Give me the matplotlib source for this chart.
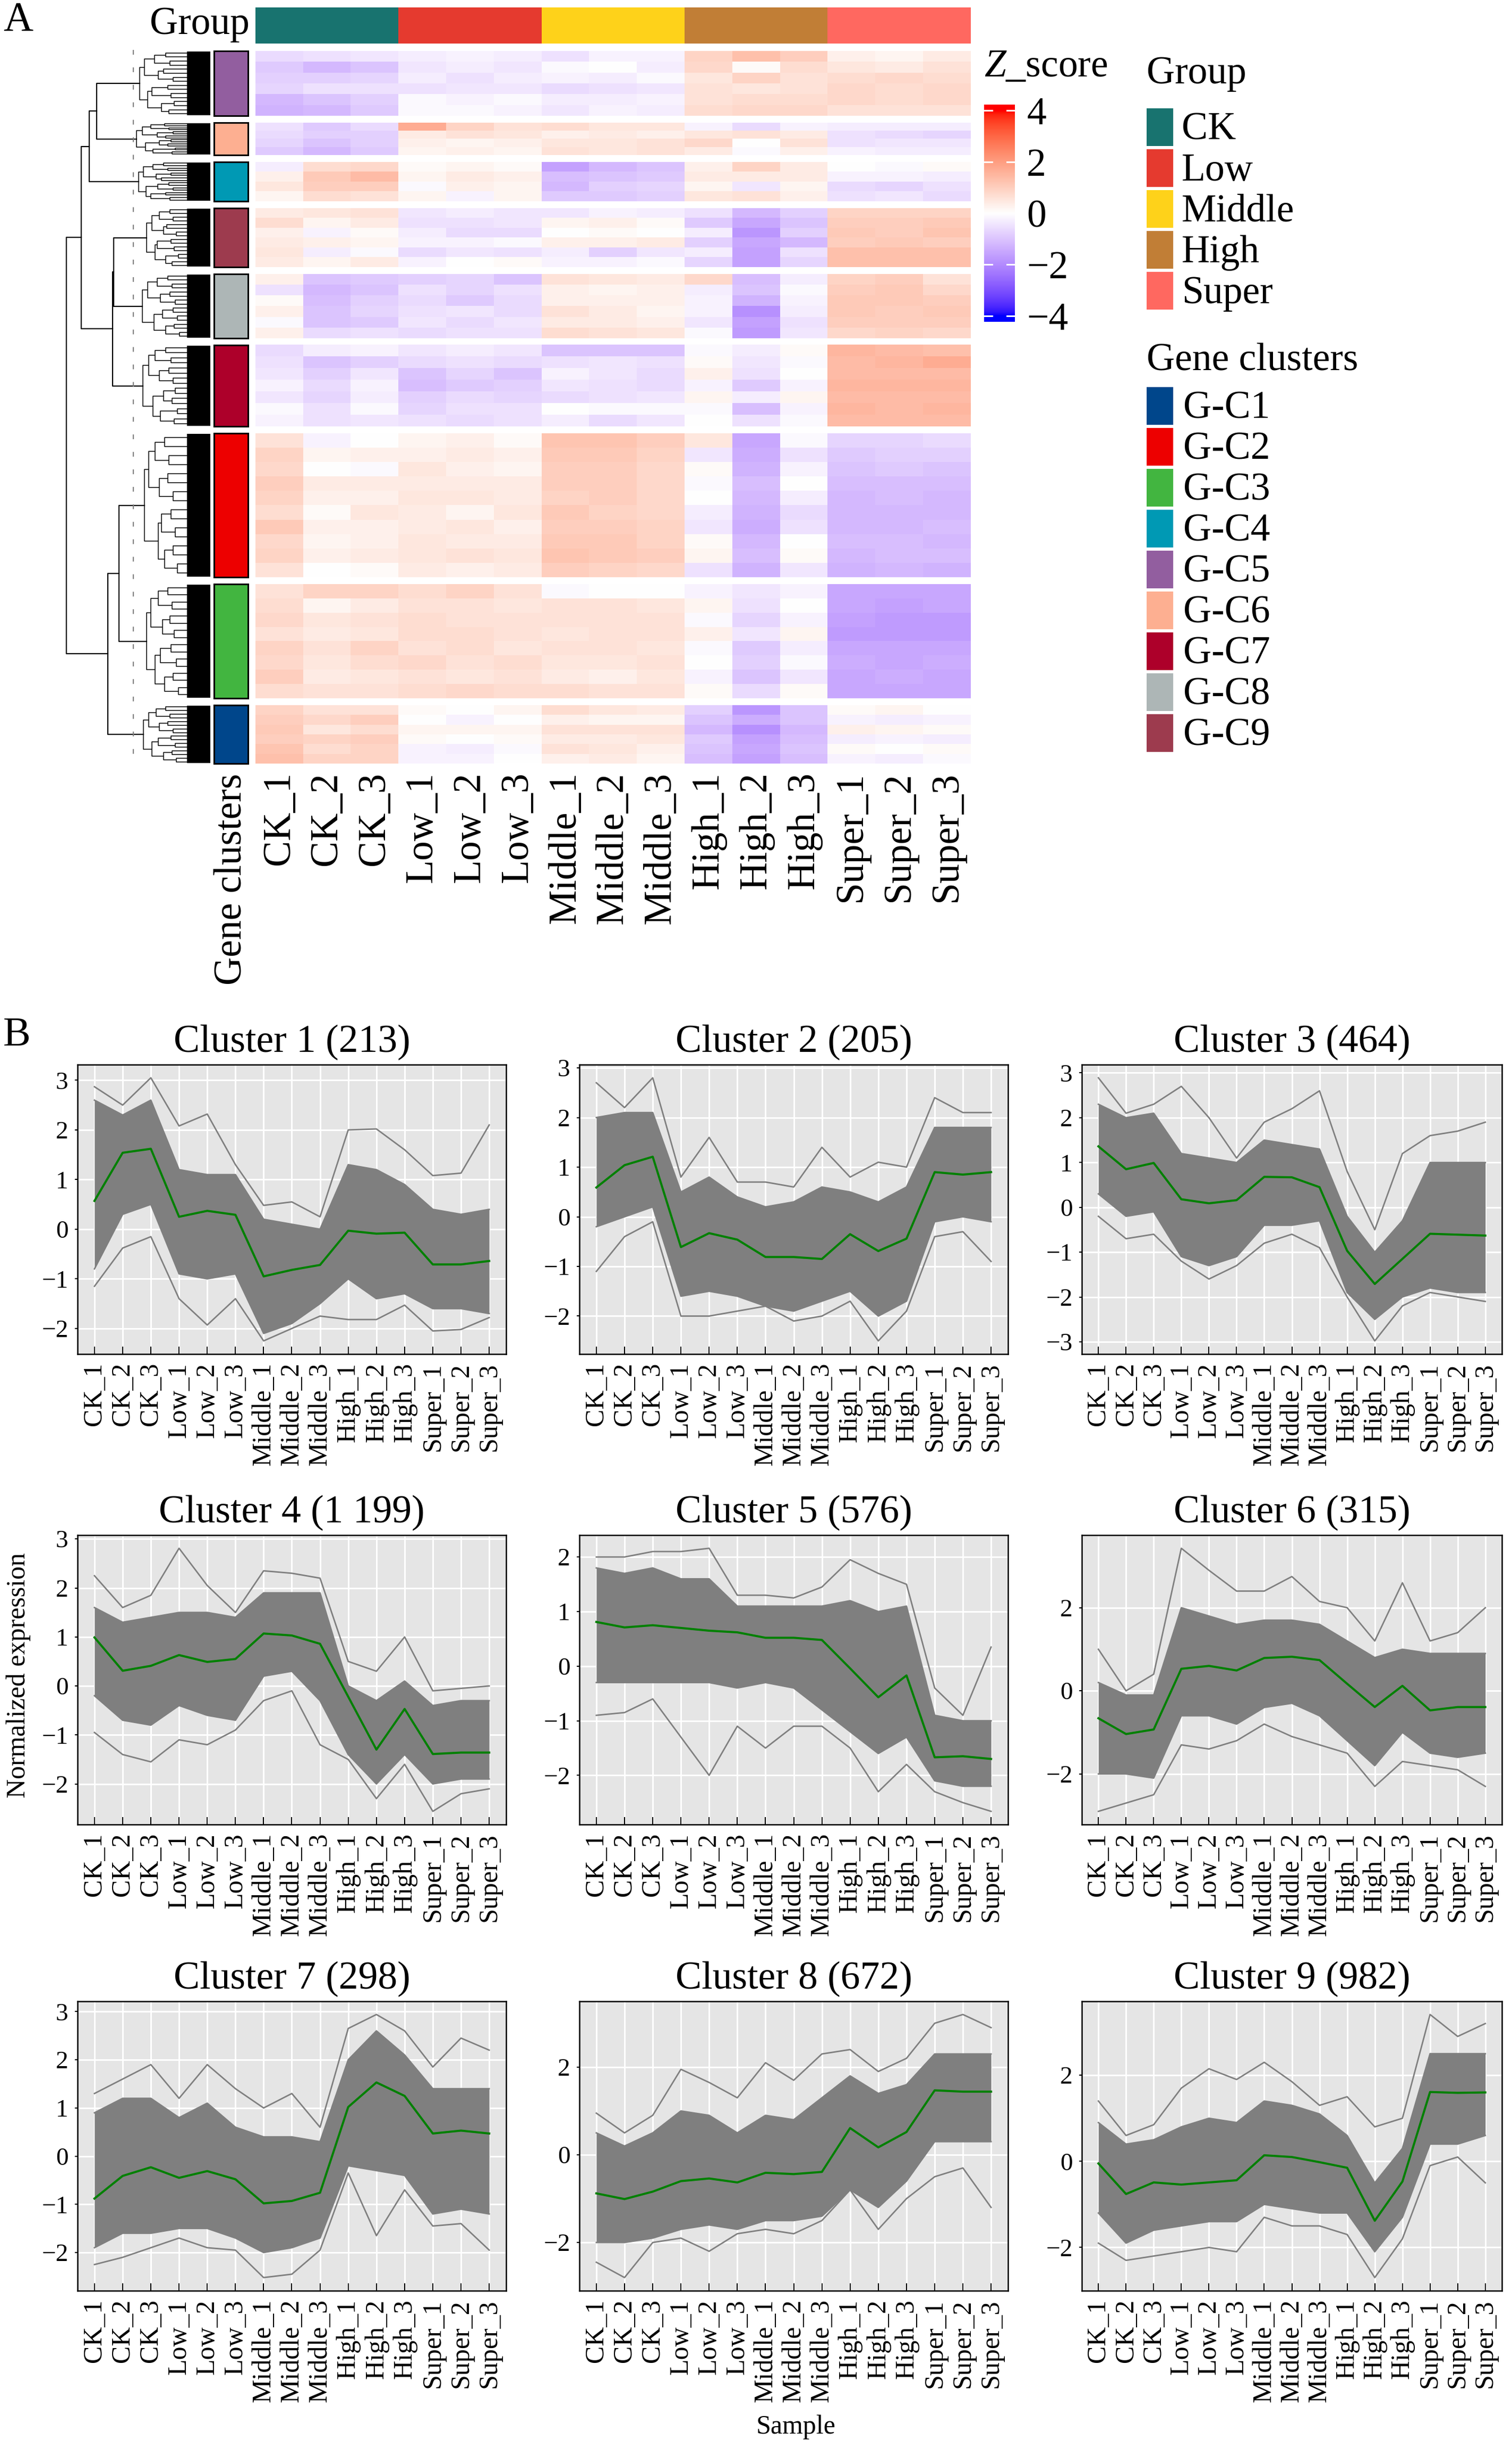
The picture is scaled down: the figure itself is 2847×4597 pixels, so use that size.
import numpy as np
import matplotlib
matplotlib.use('Agg')
import matplotlib.pyplot as plt
from matplotlib.colors import ListedColormap, Normalize
from matplotlib.patches import Rectangle
from matplotlib.ticker import MultipleLocator

plt.rcParams['font.family'] = ['Liberation Serif', 'DejaVu Serif']
plt.rcParams['mathtext.fontset'] = 'custom'
plt.rcParams['mathtext.rm'] = 'Liberation Serif'
plt.rcParams['mathtext.it'] = 'Liberation Serif:italic'

W, H = 2847, 4597

# ---------------- data ----------------
samples = ['CK_1', 'CK_2', 'CK_3', 'Low_1', 'Low_2', 'Low_3', 'Middle_1', 'Middle_2', 'Middle_3',
           'High_1', 'High_2', 'High_3', 'Super_1', 'Super_2', 'Super_3']
groups = ['CK', 'Low', 'Middle', 'High', 'Super']
group_colors = ['#18736F', '#E53A2F', '#FED21A', '#C17E36', '#FF6860']
sample_group = [0, 0, 0, 1, 1, 1, 2, 2, 2, 3, 3, 3, 4, 4, 4]

cluster_names = ['G-C1', 'G-C2', 'G-C3', 'G-C4', 'G-C5', 'G-C6', 'G-C7', 'G-C8', 'G-C9']
cluster_colors = ['#00468B', '#ED0000', '#42B540', '#0099B4', '#925E9F', '#FDAF91', '#AD002A', '#ADB6B6', '#9D3B4E']

# heatmap row order (top to bottom) and relative block sizes
row_order = ['G-C5', 'G-C6', 'G-C4', 'G-C9', 'G-C8', 'G-C7', 'G-C2', 'G-C3', 'G-C1']
block_size = [122, 61, 74, 111, 121, 153, 271, 215, 110]

# z-scores, a few representative stripes per cluster
hm_gc5 = [[-0.6, -0.5, -0.4, -0.3, -0.2, -0.3, -0.5, -0.2, -0.2, 0.9, 1.3, 1.0, 0.3, 0.2, 0.4],
          [-0.9, -1.2, -1.0, -0.4, -0.3, -0.4, -0.1, 0.0, -0.3, 0.8, 0.1, 0.7, 0.5, 0.4, 0.6],
          [-0.8, -0.8, -0.7, -0.3, -0.5, -0.3, -0.2, -0.3, -0.1, 0.5, 0.9, 0.6, 0.7, 0.8, 0.7],
          [-0.7, -0.5, -0.5, -0.5, -0.4, -0.4, -0.6, -0.5, -0.4, 0.6, 0.5, 0.6, 0.8, 0.7, 0.8],
          [-1.2, -1.0, -0.8, -0.1, -0.2, -0.1, -0.3, -0.3, -0.2, 0.6, 0.7, 0.7, 0.8, 0.7, 0.8],
          [-1.3, -1.2, -0.9, -0.1, -0.1, -0.2, -0.4, -0.2, -0.3, 0.7, 0.8, 0.8, 0.6, 0.6, 0.6]]
hm_gc6 = [[-0.5, -0.9, -0.6, 1.7, 0.9, 0.6, 0.7, 0.5, 0.5, -0.2, -0.6, -0.2, -0.3, -0.3, -0.3],
          [-0.6, -0.8, -0.8, 0.4, 0.6, 0.5, 0.3, 0.4, 0.3, 0.5, 0.6, 0.4, -0.5, -0.6, -0.7],
          [-0.7, -1.0, -0.8, 0.3, 0.2, 0.3, 0.5, 0.5, 0.6, 0.8, 0.0, 0.6, -0.5, -0.4, -0.4],
          [-0.9, -1.2, -0.9, 0.2, 0.3, 0.2, 0.6, 0.5, 0.6, 0.4, -0.1, 0.3, -0.2, -0.3, -0.3]]
hm_gc4 = [[-0.3, 0.7, 0.8, 0.1, 0.2, 0.1, -1.6, -1.2, -1.0, 0.3, 0.9, 0.4, 0.0, -0.1, 0.1],
          [0.3, 1.1, 1.4, 0.2, 0.4, 0.3, -1.1, -1.0, -0.9, 0.4, 0.4, 0.4, -0.2, -0.2, -0.3],
          [0.5, 1.0, 1.0, -0.1, 0.3, 0.2, -1.2, -0.8, -0.7, 0.2, -0.4, 0.2, -0.6, -0.7, -0.5],
          [0.2, 0.7, 0.6, 0.2, -0.2, 0.2, -0.9, -0.9, -0.8, 0.5, 0.6, 0.3, -0.5, -0.4, -0.6]]
hm_gc9 = [[0.4, 0.5, 0.6, -0.4, -0.3, -0.4, -0.4, -0.2, -0.3, -0.5, -1.2, -0.8, 0.9, 0.9, 0.9],
          [0.7, 0.2, 0.4, -0.5, -0.5, -0.4, 0.2, 0.3, 0.1, -0.9, -1.5, -1.0, 1.0, 1.0, 1.1],
          [0.3, -0.2, 0.1, -0.3, -0.6, -0.6, 0.0, 0.1, 0.0, -0.3, -1.8, -0.8, 1.1, 1.0, 1.2],
          [0.4, 0.3, 0.2, -0.2, -0.2, -0.1, 0.3, 0.3, 0.4, -0.8, -1.5, -1.2, 1.0, 1.1, 1.0],
          [0.5, -0.3, -0.1, -0.6, -0.4, -0.5, -0.3, -0.8, -0.4, -0.3, -1.6, -0.5, 1.3, 1.3, 1.3],
          [0.4, 0.2, 0.4, -0.2, 0.0, 0.1, -0.2, -0.2, -0.1, -0.7, -1.6, -0.7, 1.3, 1.3, 1.3]]
hm_gc8 = [[0.3, -1.0, -0.9, -0.8, -0.7, -1.0, 0.6, 0.5, 0.4, 0.8, -1.1, -0.3, 0.9, 1.0, 0.6],
          [-0.5, -1.2, -1.0, -0.5, -0.7, -0.5, 0.3, 0.2, 0.3, -0.3, -1.0, -0.1, 1.0, 1.1, 0.8],
          [0.1, -1.1, -0.8, -0.6, -0.9, -0.6, 0.3, 0.3, 0.3, -0.2, -1.3, -0.2, 1.1, 1.1, 1.0],
          [0.3, -1.0, -0.7, -0.5, -0.4, -0.6, 0.6, 0.4, 0.2, -0.2, -1.9, -0.3, 1.1, 1.0, 1.1],
          [-0.1, -1.0, -0.9, -0.4, -0.6, -0.4, 0.4, 0.4, 0.3, -0.4, -1.6, -0.5, 1.0, 1.0, 1.0],
          [0.3, -0.6, -0.5, -0.6, -0.5, -0.5, 0.7, 0.6, 0.5, -0.1, -1.7, -0.4, 0.8, 0.9, 0.8]]
hm_gc7 = [[-0.6, -0.3, -0.2, -0.4, -0.3, -0.4, -1.0, -1.0, -1.0, -0.1, -0.3, 0.1, 1.5, 1.4, 1.3],
          [-0.5, -1.0, -0.8, -0.6, -0.5, -0.6, -0.5, -0.4, -0.5, 0.1, -0.4, -0.1, 1.4, 1.5, 1.7],
          [-0.4, -0.8, -0.4, -1.0, -0.7, -1.0, -0.2, -0.4, -0.6, 0.3, -0.5, 0.0, 1.4, 1.4, 1.4],
          [-0.2, -0.6, -0.2, -1.1, -0.9, -0.8, -0.4, -0.5, -0.6, -0.2, -0.9, -0.2, 1.5, 1.5, 1.5],
          [-0.4, -0.7, -0.3, -0.8, -0.6, -0.7, -0.6, -0.5, -0.4, 0.2, -0.3, 0.2, 1.4, 1.4, 1.4],
          [-0.1, -0.5, -0.1, -0.7, -0.5, -0.5, 0.0, -0.1, -0.1, -0.1, -1.1, -0.2, 1.5, 1.4, 1.5],
          [-0.2, -0.5, -0.4, -0.5, -0.6, -0.5, -0.3, -0.6, -0.4, 0.0, -0.5, -0.1, 1.4, 1.4, 1.4]]
hm_gc2 = [[0.6, -0.2, 0.0, 0.2, 0.3, 0.1, 1.2, 1.2, 1.0, 0.5, -1.5, -0.1, -0.7, -0.7, -0.6],
          [0.9, 0.2, 0.3, 0.3, 0.4, 0.3, 1.1, 1.1, 0.9, -0.4, -1.4, -0.5, -0.9, -0.8, -0.8],
          [0.8, 0.0, -0.1, 0.5, 0.3, 0.2, 1.0, 1.0, 0.8, 0.1, -1.3, -0.2, -1.0, -0.9, -1.0],
          [1.0, 0.4, 0.4, 0.4, 0.4, 0.4, 1.0, 1.0, 0.8, -0.1, -1.1, 0.0, -1.1, -1.1, -1.1],
          [0.9, 0.3, 0.3, 0.5, 0.5, 0.4, 0.9, 1.0, 0.8, 0.0, -1.2, -0.3, -1.2, -1.1, -1.2],
          [0.7, 0.1, 0.5, 0.4, 0.2, 0.5, 1.1, 0.9, 0.8, -0.3, -1.3, -0.6, -1.2, -1.2, -1.2],
          [1.1, 0.3, 0.3, 0.4, 0.5, 0.3, 1.0, 1.0, 0.9, -0.4, -1.4, -0.5, -1.2, -1.2, -1.1],
          [0.8, 0.2, 0.3, 0.5, 0.4, 0.4, 1.1, 1.1, 0.9, 0.1, -1.2, 0.0, -1.1, -1.1, -1.2],
          [0.9, 0.3, 0.4, 0.5, 0.6, 0.5, 1.2, 1.1, 1.0, 0.2, -1.1, 0.1, -1.2, -1.1, -1.1],
          [0.6, 0.0, 0.1, 0.4, 0.3, 0.4, 1.0, 0.9, 0.8, -0.5, -1.3, -0.4, -1.3, -1.2, -1.3]]
hm_gc3 = [[0.6, 0.9, 0.9, 0.7, 0.9, 0.6, -0.1, 0.0, 0.0, -0.2, -0.4, -0.2, -1.5, -1.5, -1.5],
          [0.7, 0.2, 0.4, 0.6, 0.6, 0.5, 0.6, 0.6, 0.5, 0.2, -0.5, 0.0, -1.5, -1.6, -1.5],
          [0.8, 0.5, 0.6, 0.7, 0.6, 0.6, 0.6, 0.6, 0.6, -0.1, -0.7, -0.2, -1.6, -1.7, -1.7],
          [0.6, 0.4, 0.5, 0.7, 0.7, 0.6, 0.5, 0.6, 0.6, 0.3, -0.4, 0.2, -1.7, -1.7, -1.7],
          [0.9, 0.6, 0.9, 0.6, 0.7, 0.5, 0.6, 0.6, 0.5, -0.1, -0.9, -0.3, -1.5, -1.5, -1.5],
          [0.8, 0.5, 0.7, 0.8, 0.6, 0.7, 0.5, 0.5, 0.6, 0.0, -0.8, -0.1, -1.4, -1.5, -1.4],
          [1.0, 0.4, 0.5, 0.6, 0.5, 0.6, 0.4, 0.3, 0.5, -0.2, -1.0, -0.4, -1.5, -1.4, -1.5],
          [0.7, 0.6, 0.6, 0.7, 0.8, 0.7, 0.7, 0.6, 0.6, 0.1, -0.6, 0.1, -1.5, -1.5, -1.5]]
hm_gc1 = [[0.9, 0.6, 0.6, 0.1, 0.0, 0.2, 0.7, 0.5, 0.4, -0.8, -1.8, -1.0, 0.1, 0.2, 0.0],
          [1.0, 0.8, 1.0, 0.0, -0.2, 0.0, 0.3, 0.2, 0.2, -1.0, -1.4, -1.0, -0.2, -0.3, -0.2],
          [1.1, 0.5, 0.7, 0.2, 0.2, 0.2, 0.6, 0.6, 0.6, -1.2, -1.9, -1.2, 0.3, 0.2, 0.1],
          [1.0, 0.9, 1.0, 0.1, 0.0, 0.1, 0.4, 0.4, 0.5, -0.9, -1.6, -1.1, -0.3, -0.2, -0.3],
          [1.2, 0.7, 0.9, -0.2, -0.3, -0.1, 0.6, 0.5, 0.3, -1.0, -1.5, -1.0, 0.1, 0.0, 0.1],
          [1.3, 0.9, 0.9, -0.2, -0.2, 0.0, 0.3, 0.4, 0.2, -1.1, -1.6, -1.1, -0.2, -0.3, -0.1]]
heat = {'G-C1': hm_gc1, 'G-C2': hm_gc2, 'G-C3': hm_gc3, 'G-C4': hm_gc4, 'G-C5': hm_gc5,
        'G-C6': hm_gc6, 'G-C7': hm_gc7, 'G-C8': hm_gc8, 'G-C9': hm_gc9}

# dendrogram: cluster subtree root heights and top level merges
leaf_height = {'G-C5': 133, 'G-C6': 139, 'G-C4': 135, 'G-C9': 120, 'G-C8': 128,
               'G-C7': 127, 'G-C2': 124, 'G-C3': 120, 'G-C1': 126}
merges = [('G-C5', 'G-C6', 214, 'n1'), ('n1', 'G-C4', 228, 'n2'),
          ('G-C9', 'G-C8', 182, 'n3'), ('n3', 'G-C7', 184, 'n4'),
          ('n2', 'n4', 243, 'n5'), ('G-C2', 'G-C3', 172, 'n6'),
          ('n6', 'G-C1', 193, 'n7'), ('n5', 'n7', 271, 'root')]
cut_height = 145
sub_heights = {
    'G-C5': [[124, 118], [105, 98, 110, 92], [84, 76, 88, 70, 80, 74, 68, 78]],
    'G-C6': [[128, 122], [112, 100, 96, 108], [86, 78, 70, 84, 74, 80, 66, 72]],
    'G-C4': [[126, 121], [108, 102, 99, 112], [88, 80, 74, 92, 78, 70, 84, 76]],
    'G-C9': [[110, 104], [96, 88, 100, 84], [76, 70, 82, 64, 74, 68, 60, 72]],
    'G-C8': [[118, 106], [100, 94, 90, 84], [80, 72, 76, 66, 70, 62, 68, 58]],
    'G-C7': [[116, 108], [104, 96, 88, 94], [84, 74, 78, 70, 66, 72, 62, 68]],
    'G-C2': [[116, 98], [104, 96, 92, 86], [86, 78, 80, 70, 74, 66, 70, 62]],
    'G-C3': [[112, 104], [98, 90, 94, 86], [80, 72, 76, 68, 74, 64, 70, 60]],
    'G-C1': [[116, 110], [102, 96, 98, 88], [84, 76, 80, 70, 74, 66, 72, 64]],
}

# panel B: mean profile (green), outermost lines and the dense band
panel_titles = ['Cluster 1 (213)', 'Cluster 2 (205)', 'Cluster 3 (464)', 'Cluster 4 (1 199)',
                'Cluster 5 (576)', 'Cluster 6 (315)', 'Cluster 7 (298)', 'Cluster 8 (672)',
                'Cluster 9 (982)']
c1_mean = [0.57, 1.54, 1.62, 0.25, 0.37, 0.29, -0.95, -0.82, -0.72, -0.03, -0.09, -0.07, -0.71, -0.71, -0.64]
c1_top = [2.87, 2.5, 3.05, 2.08, 2.32, 1.3, 0.48, 0.55, 0.25, 2.0, 2.02, 1.6, 1.08, 1.13, 2.1]
c1_high = [2.6, 2.3, 2.6, 1.2, 1.1, 1.1, 0.2, 0.1, 0.0, 1.3, 1.2, 0.9, 0.4, 0.3, 0.4]
c1_low = [-0.8, 0.3, 0.5, -0.9, -1.0, -0.9, -2.1, -1.9, -1.5, -1.0, -1.4, -1.3, -1.6, -1.6, -1.7]
c1_bottom = [-1.15, -0.38, -0.15, -1.4, -1.93, -1.4, -2.25, -2.0, -1.75, -1.82, -1.82, -1.53, -2.05, -2.02, -1.78]

c2_mean = [0.59, 1.04, 1.21, -0.61, -0.33, -0.46, -0.81, -0.81, -0.85, -0.35, -0.69, -0.44, 0.9, 0.85, 0.9]
c2_top = [2.7, 2.2, 2.8, 0.8, 1.6, 0.7, 0.7, 0.6, 1.4, 0.8, 1.1, 1.0, 2.4, 2.1, 2.1]
c2_high = [2.0, 2.1, 2.1, 0.5, 0.8, 0.4, 0.2, 0.3, 0.6, 0.5, 0.3, 0.6, 1.8, 1.8, 1.8]
c2_low = [-0.2, 0.0, 0.2, -1.6, -1.5, -1.6, -1.8, -1.9, -1.7, -1.5, -2.0, -1.7, -0.1, 0.0, -0.1]
c2_bottom = [-1.1, -0.4, -0.1, -2.0, -2.0, -1.9, -1.8, -2.1, -2.0, -1.7, -2.5, -1.9, -0.4, -0.3, -0.9]

c3_mean = [1.36, 0.85, 0.99, 0.18, 0.09, 0.16, 0.68, 0.67, 0.45, -0.97, -1.71, -1.15, -0.59, -0.61, -0.63]
c3_top = [2.89, 2.1, 2.3, 2.7, 2.0, 1.1, 1.9, 2.2, 2.6, 0.8, -0.5, 1.2, 1.6, 1.7, 1.9]
c3_high = [2.3, 2.0, 2.1, 1.2, 1.1, 1.0, 1.5, 1.4, 1.3, -0.2, -1.0, -0.3, 1.0, 1.0, 1.0]
c3_low = [0.3, -0.2, -0.1, -1.1, -1.3, -1.1, -0.4, -0.4, -0.3, -1.9, -2.5, -2.0, -1.8, -1.9, -1.9]
c3_bottom = [-0.2, -0.7, -0.6, -1.2, -1.6, -1.3, -0.8, -0.6, -0.9, -2.0, -2.98, -2.2, -1.9, -2.0, -2.1]

c4_mean = [0.99, 0.31, 0.41, 0.63, 0.49, 0.55, 1.07, 1.03, 0.86, -0.22, -1.30, -0.47, -1.39, -1.36, -1.36]
c4_top = [2.25, 1.6, 1.85, 2.81, 2.05, 1.5, 2.35, 2.3, 2.2, 0.5, 0.3, 1.0, -0.1, -0.05, 0.0]
c4_high = [1.6, 1.3, 1.4, 1.5, 1.5, 1.4, 1.9, 1.9, 1.9, 0.0, -0.3, 0.1, -0.4, -0.3, -0.3]
c4_low = [-0.2, -0.7, -0.8, -0.4, -0.6, -0.7, 0.2, 0.3, -0.3, -1.4, -2.0, -1.4, -2.0, -1.9, -1.9]
c4_bottom = [-0.95, -1.4, -1.55, -1.1, -1.2, -0.9, -0.3, -0.1, -1.2, -1.5, -2.3, -1.6, -2.56, -2.2, -2.1]

c5_mean = [0.81, 0.71, 0.75, 0.70, 0.65, 0.62, 0.52, 0.52, 0.48, -0.04, -0.57, -0.17, -1.67, -1.65, -1.70]
c5_top = [2.0, 2.0, 2.1, 2.1, 2.16, 1.3, 1.3, 1.25, 1.45, 1.95, 1.7, 1.5, -0.4, -0.9, 0.35]
c5_high = [1.8, 1.7, 1.8, 1.6, 1.6, 1.1, 1.1, 1.1, 1.1, 1.2, 1.0, 1.1, -0.9, -1.0, -1.0]
c5_low = [-0.3, -0.3, -0.3, -0.3, -0.3, -0.4, -0.3, -0.4, -0.8, -1.2, -1.6, -1.3, -2.1, -2.2, -2.2]
c5_bottom = [-0.9, -0.85, -0.6, -1.3, -2.0, -1.1, -1.5, -1.1, -1.1, -1.5, -2.3, -1.8, -2.3, -2.5, -2.66]

c6_mean = [-0.66, -1.04, -0.93, 0.53, 0.60, 0.49, 0.79, 0.82, 0.74, 0.17, -0.39, 0.12, -0.47, -0.39, -0.39]
c6_top = [1.0, 0.0, 0.4, 3.43, 2.9, 2.4, 2.4, 2.75, 2.15, 2.0, 1.2, 2.6, 1.2, 1.4, 2.0]
c6_high = [0.2, -0.1, -0.1, 2.0, 1.8, 1.6, 1.7, 1.7, 1.6, 1.2, 0.8, 1.0, 0.9, 0.9, 0.9]
c6_low = [-2.0, -2.0, -2.1, -0.6, -0.6, -0.8, -0.4, -0.3, -0.6, -1.2, -1.8, -1.0, -1.5, -1.6, -1.5]
c6_bottom = [-2.9, -2.7, -2.5, -1.3, -1.4, -1.2, -0.8, -1.1, -1.3, -1.5, -2.3, -1.7, -1.8, -1.9, -2.3]

c7_mean = [-0.88, -0.41, -0.23, -0.45, -0.31, -0.48, -0.98, -0.93, -0.76, 1.02, 1.53, 1.25, 0.47, 0.53, 0.47]
c7_top = [1.3, 1.6, 1.9, 1.2, 1.9, 1.4, 1.0, 1.3, 0.6, 2.65, 2.94, 2.6, 1.85, 2.45, 2.2]
c7_high = [0.9, 1.2, 1.2, 0.8, 1.1, 0.6, 0.4, 0.4, 0.3, 2.0, 2.6, 2.1, 1.4, 1.4, 1.4]
c7_low = [-1.9, -1.6, -1.6, -1.5, -1.5, -1.7, -2.0, -1.9, -1.7, -0.2, -0.3, -0.4, -1.2, -1.1, -1.2]
c7_bottom = [-2.25, -2.1, -1.9, -1.7, -1.9, -1.95, -2.52, -2.45, -1.95, -0.35, -1.65, -0.7, -1.45, -1.4, -1.95]

c8_mean = [-0.88, -1.01, -0.84, -0.60, -0.54, -0.63, -0.41, -0.44, -0.39, 0.61, 0.17, 0.52, 1.47, 1.44, 1.44]
c8_top = [0.95, 0.5, 0.9, 1.95, 1.65, 1.3, 2.1, 1.7, 2.3, 2.4, 1.9, 2.2, 3.0, 3.2, 2.9]
c8_high = [0.5, 0.2, 0.5, 1.0, 0.9, 0.5, 0.9, 0.8, 1.3, 1.8, 1.4, 1.6, 2.3, 2.3, 2.3]
c8_low = [-2.0, -2.0, -1.9, -1.7, -1.6, -1.7, -1.5, -1.5, -1.4, -0.8, -1.2, -0.6, 0.3, 0.3, 0.3]
c8_bottom = [-2.45, -2.8, -2.0, -1.9, -2.2, -1.8, -1.7, -1.8, -1.5, -0.8, -1.7, -1.0, -0.5, -0.3, -1.2]

c9_mean = [-0.05, -0.76, -0.49, -0.54, -0.49, -0.44, 0.14, 0.10, -0.02, -0.15, -1.38, -0.47, 1.61, 1.59, 1.60]
c9_top = [1.4, 0.6, 0.85, 1.7, 2.15, 1.9, 2.3, 1.85, 1.3, 1.5, 0.8, 1.0, 3.41, 2.9, 3.2]
c9_high = [0.9, 0.4, 0.5, 0.8, 1.0, 0.9, 1.4, 1.3, 1.1, 0.6, -0.5, 0.3, 2.5, 2.5, 2.5]
c9_low = [-1.2, -1.9, -1.6, -1.5, -1.4, -1.4, -1.0, -1.1, -1.2, -1.2, -2.1, -1.3, 0.4, 0.4, 0.6]
c9_bottom = [-1.9, -2.3, -2.2, -2.1, -2.0, -2.1, -1.3, -1.5, -1.5, -1.7, -2.7, -1.8, -0.1, 0.1, -0.5]

panels = [(c1_mean, c1_top, c1_high, c1_low, c1_bottom), (c2_mean, c2_top, c2_high, c2_low, c2_bottom),
          (c3_mean, c3_top, c3_high, c3_low, c3_bottom), (c4_mean, c4_top, c4_high, c4_low, c4_bottom),
          (c5_mean, c5_top, c5_high, c5_low, c5_bottom), (c6_mean, c6_top, c6_high, c6_low, c6_bottom),
          (c7_mean, c7_top, c7_high, c7_low, c7_bottom), (c8_mean, c8_top, c8_high, c8_low, c8_bottom),
          (c9_mean, c9_top, c9_high, c9_low, c9_bottom)]
ytick_step = [1, 1, 1, 1, 1, 2, 1, 2, 2]


# ---------------- colour map (blue - white - red, LAB interpolation) ----------------
_M = np.array([[0.4124564, 0.3575761, 0.1804375],
               [0.2126729, 0.7151522, 0.0721750],
               [0.0193339, 0.1191920, 0.9503041]])
_WP = np.array([0.95047, 1.0, 1.08883])


def rgb2lab(c):
  c = np.asarray(c, float)
  lin = np.where(c <= 0.04045, c / 12.92, ((c + 0.055) / 1.055) ** 2.4)
  xyz = _M @ lin / _WP
  f = np.where(xyz > 216 / 24389, np.cbrt(xyz), (24389 / 27 * xyz + 16) / 116)
  return np.array([116 * f[1] - 16, 500 * (f[0] - f[1]), 200 * (f[1] - f[2])])


def lab2rgb(lab):
  L, a, b = lab
  fy = (L + 16) / 116
  fx = fy + a / 500
  fz = fy - b / 200
  finv = lambda t: t ** 3 if t ** 3 > 216 / 24389 else (116 * t - 16) / (24389 / 27)
  xyz = np.array([finv(fx), finv(fy), finv(fz)]) * _WP
  lin = np.clip(np.linalg.inv(_M) @ xyz, 0, 1)
  c = np.where(lin <= 0.0031308, 12.92 * lin, 1.055 * lin ** (1 / 2.4) - 0.055)
  return np.clip(c, 0, 1)


lab_b, lab_w, lab_r = rgb2lab([0, 0, 1]), rgb2lab([1, 1, 1]), rgb2lab([1, 0, 0])
cols = []
for v in np.linspace(-4, 4, 511):
  t = abs(v) / 4
  end = lab_b if v < 0 else lab_r
  cols.append(lab2rgb(lab_w * (1 - t) + end * t))
zcmap = ListedColormap(cols)
znorm = Normalize(-4, 4)

# ---------------- figure ----------------
fig = plt.figure(figsize=(W / 100, H / 100), dpi=100)


def px_axes(x0, y0, x1, y1):
  return fig.add_axes([x0 / W, 1 - y1 / H, (x1 - x0) / W, (y1 - y0) / H])


over = px_axes(0, 0, W, H)
over.set_xlim(0, W)
over.set_ylim(H, 0)
over.axis('off')

FS = 53
gap = 13
tops = []
acc = 0
for s in block_size:
  tops.append(acc)
  acc += s + gap
total = acc - gap
HM_TOP = 96

# heatmap body
hax = px_axes(481, HM_TOP, 1828, HM_TOP + total)
for name, t, s in zip(row_order, tops, block_size):
  hax.imshow(np.array(heat[name]), cmap=zcmap, norm=znorm, aspect='auto',
             interpolation='nearest', extent=(0, 15, t + s, t))
hax.set_xlim(0, 15)
hax.set_ylim(total, 0)
hax.set_xticks(np.arange(15) + 0.5)
hax.set_xticklabels(samples, rotation=90, fontsize=FS)
hax.tick_params(axis='x', length=0, pad=11)
hax.set_yticks([])
for sp in hax.spines.values():
  sp.set_visible(False)

# group annotation
gax = px_axes(481, 14, 1828, 82)
gax.imshow(np.array([sample_group]), cmap=ListedColormap(group_colors), aspect='auto',
           interpolation='nearest', extent=(0, 15, 1, 0), vmin=-0.5, vmax=4.5)
gax.axis('off')
over.text(470, 46, 'Group', fontsize=FS, ha='right', va='center')

# cluster annotation
cax = px_axes(401, HM_TOP, 469, HM_TOP + total)
cax.set_xlim(0, 1)
cax.set_ylim(total, 0)
for name, t, s in zip(row_order, tops, block_size):
  cax.add_patch(Rectangle((0.03, t), 0.94, s, facecolor=cluster_colors[cluster_names.index(name)],
                          edgecolor='black', lw=2.2, clip_on=False))
cax.axis('off')
over.text(437, 1457, 'Gene clusters', fontsize=FS, rotation=90, ha='center', va='top')

# dendrogram
dax = px_axes(110, HM_TOP, 396, HM_TOP + total)
dax.set_xlim(286, 0)
dax.set_ylim(total, 0)
dax.axis('off')
pos = {}
for name, t, s in zip(row_order, tops, block_size):
  y0, y1 = t, t + s
  pos[name] = (leaf_height[name], (y0 + y1) / 2)
  hs = [[leaf_height[name]]] + sub_heights[name] + [[0.0] * 16]
  for L in range(len(hs) - 1):
    step = (y1 - y0) / len(hs[L])
    for i, h in enumerate(hs[L]):
      ya = y0 + (2 * i + 0.5) * step / 2
      yb = y0 + (2 * i + 1.5) * step / 2
      dax.plot([hs[L + 1][2 * i], h, h, hs[L + 1][2 * i + 1]], [ya, ya, yb, yb],
               color='black', lw=1.1, solid_capstyle='butt')
  dax.add_patch(Rectangle((0, y0 + 1), 44, s - 2, facecolor='black', edgecolor='none'))
for a, b, h, name in merges:
  (ha, ya), (hb, yb) = pos[a], pos[b]
  dax.plot([ha, h, h, hb], [ya, ya, yb, yb], color='black', lw=1.6)
  pos[name] = (h, (ya + yb) / 2)
dax.plot([cut_height, cut_height], [-2, total + 2], color='#808080', lw=1.5,
         ls=(0, (4.3, 11.5)), clip_on=False)

# colour bar
zax = px_axes(1853, 197, 1911, 606)
zax.imshow(np.linspace(4.23, -4.23, 500)[:, None], cmap=zcmap, norm=znorm, aspect='auto',
           extent=(0, 1, -4.23, 4.23))
zax.set_xlim(0, 1)
zax.set_ylim(-4.23, 4.23)
for v in [4, 2, -2, -4]:
  zax.plot([0, 0.26], [v, v], color='white', lw=2.2)
  zax.plot([0.74, 1], [v, v], color='white', lw=2.2)
zax.set_xticks([])
zax.yaxis.tick_right()
zax.set_yticks([4, 2, 0, -2, -4])
zax.set_yticklabels(['4', '2', '0', '\u22122', '\u22124'], fontsize=FS)
zax.tick_params(axis='y', length=0, pad=16)
for sp in zax.spines.values():
  sp.set_visible(False)
over.text(1853, 144, r'$Z$_score', fontsize=FS, ha='left', va='baseline')

# legends
over.text(2159, 157, 'Group', fontsize=FS, ha='left', va='baseline')
for k, (g, c) in enumerate(zip(groups, group_colors)):
  y = 204 + 77 * k
  over.add_patch(Rectangle((2159, y), 50, 71, facecolor=c, edgecolor='none'))
  over.text(2225, y + 41, g, fontsize=FS, ha='left', va='center')
over.text(2159, 697, 'Gene clusters', fontsize=FS, ha='left', va='baseline')
for k, (g, c) in enumerate(zip(cluster_names, cluster_colors)):
  y = 729 + 77 * k
  over.add_patch(Rectangle((2159, y), 50, 71, facecolor=c, edgecolor='none'))
  over.text(2228, y + 41, g, fontsize=FS, ha='left', va='center')

over.text(6, 38, 'A', fontsize=56, ha='left', va='center')
over.text(6, 1950, 'B', fontsize=56, ha='left', va='center')

# ---------------- panel B ----------------
col_x = [(146, 953), (1091, 1898), (2037, 2828)]
row_y = [(2005, 2550), (2891, 3436), (3769, 4314)]
x = np.arange(1, 16)
GRAY = '#7F7F7F'
for k, (title, (mean, top, high, low, bottom)) in enumerate(zip(panel_titles, panels)):
  (x0, x1), (y0, y1) = col_x[k % 3], row_y[k // 3]
  ax = px_axes(x0, y0, x1, y1)
  ax.set_facecolor('#E5E5E5')
  ax.fill_between(x, low, high, color=GRAY, lw=0, zorder=2)
  for line in (top, bottom, high, low):
    ax.plot(x, line, color=GRAY, lw=2.0, zorder=2)
  ax.plot(x, mean, color='#008000', lw=2.9, zorder=3)
  lo, hi = min(bottom), max(top)
  r = hi - lo
  ax.set_ylim(lo - 0.05 * r, hi + 0.05 * r)
  ax.set_xlim(0.4, 15.6)
  ax.set_xticks(x)
  ax.set_xticklabels(samples, rotation=90, fontsize=36)
  ax.yaxis.set_major_locator(MultipleLocator(ytick_step[k]))
  ax.tick_params(axis='x', direction='in', length=10, width=1.5, pad=11.5)
  ax.tick_params(axis='y', direction='out', length=3.5, width=1.5, pad=9, labelsize=34)
  ax.set_axisbelow(True)
  ax.grid(True, color='white', lw=2.2, zorder=1)
  for sp in ax.spines.values():
    sp.set_linewidth(1.8)
    sp.set_zorder(5)
  ax.set_title(title, fontsize=53, pad=17)

over.text(35, 3155, 'Normalized expression', fontsize=36, rotation=90, ha='center', va='center')
over.text(1499, 4583, 'Sample', fontsize=36, ha='center', va='baseline')

fig.savefig('out.png', dpi=100)
